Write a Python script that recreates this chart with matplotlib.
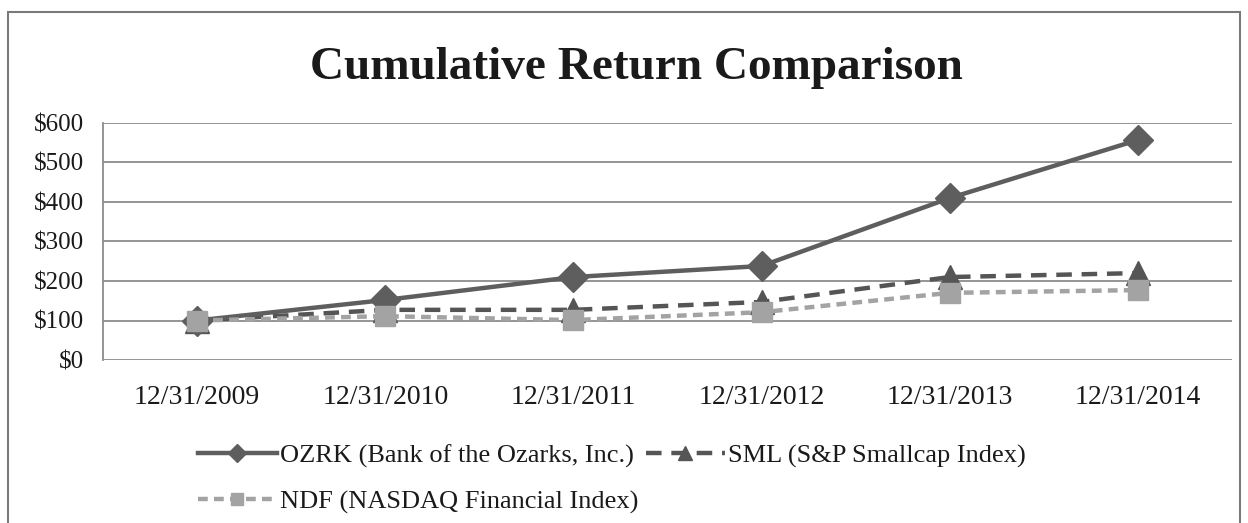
#!/usr/bin/env python3
# -*- coding: utf-8 -*-
import matplotlib.pyplot as plt
from matplotlib.patches import Rectangle

# data
dates = ["12/31/2009", "12/31/2010", "12/31/2011", "12/31/2012", "12/31/2013", "12/31/2014"]
ozrk = [100, 152, 210, 238, 410, 557]
sml = [100, 127, 127, 147, 210, 220]
ndf = [100, 111, 101, 121, 170, 177]
yticks = [0, 100, 200, 300, 400, 500, 600]

plt.rcParams["font.family"] = ["Liberation Serif", "DejaVu Serif"]

fig = plt.figure(figsize=(12.48, 5.23), dpi=100)
ax = fig.add_axes([103 / 1248, 1 - 360 / 523, 1129 / 1248, 237 / 523])

# outer frame of the original picture
fig.patches.append(Rectangle((8 / 1248, -0.1), 1232 / 1248, 1.1 - 12 / 523,
                             transform=fig.transFigure, fill=False,
                             edgecolor="#7a7a7a", linewidth=1.5))

x = range(len(dates))
l1, = ax.plot(x, ozrk, color="#5e5e5e", lw=3.2, marker="D", ms=15, zorder=3,
              label="OZRK (Bank of the Ozarks, Inc.)")
l2, = ax.plot(x, sml, color="#555555", lw=3.2, ls=(0, (3.5, 2.2)), marker="^",
              ms=17, zorder=2, label="SML (S&P Smallcap Index)")
l3, = ax.plot(x, ndf, color="#a3a3a3", lw=3.2, ls=(0, (2.2, 1.4)), marker="s",
              ms=15, zorder=4, label="NDF (NASDAQ Financial Index)")

ax.set_xlim(-0.5, 5.5)
ax.set_ylim(0, 600)
ax.set_xticks(list(x))
ax.set_xticklabels(dates)
ax.set_yticks(yticks)
ax.set_yticklabels([f"${v}" for v in yticks])
ax.tick_params(length=0, colors="#1a1a1a")
ax.tick_params(axis="x", pad=18, labelsize=20)
ax.tick_params(axis="y", pad=14, labelsize=18)
ax.grid(axis="y", color="#8c8c8c", lw=1.3)
ax.set_axisbelow(True)
for side, sp in ax.spines.items():
    sp.set_visible(side == "left")
    sp.set_color("#8c8c8c")
    sp.set_linewidth(1.3)

fig.text(0.51, 1 - 68 / 523, "Cumulative Return Comparison", ha="center",
         va="center", fontsize=34, fontweight="bold", color="#1a1a1a")

# order so the two columns read OZRK, SML / NDF row by row
leg = fig.legend([l1, l3, l2], [l1.get_label(), l3.get_label(), l2.get_label()],
                 ncol=2, loc="upper left",
                 bbox_to_anchor=(174 / 1248, 1 - 420 / 523), frameon=False,
                 fontsize=19, handlelength=3.0, handletextpad=0.1,
                 columnspacing=0.3, labelspacing=0.85, markerscale=0.6)
for t in leg.get_texts():
    t.set_color("#1a1a1a")

fig.savefig("out.png", dpi=100)
